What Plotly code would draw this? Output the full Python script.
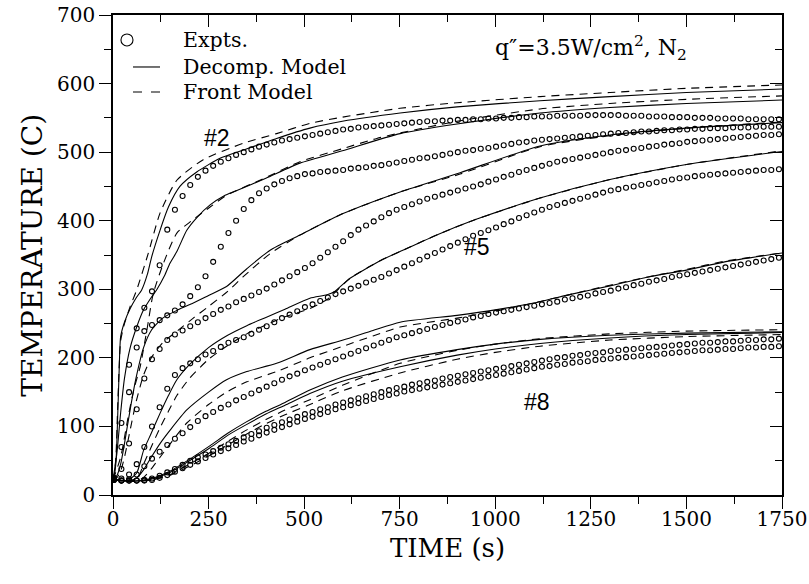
import plotly.graph_objects as go

# ---------------- data ----------------
# experiment sampling times (s), one reading every 20 s
T_EXP = list(range(2, 1750, 20))

EXP_2 = [25, 105, 190, 243, 273, 297, 335, 387, 416, 436,
         452, 464, 473, 480, 486, 491, 496, 500, 504, 508,
         511, 514, 517, 519, 521, 523, 525, 527, 529, 531,
         533, 534, 536, 537, 538, 539, 540, 541, 542, 543,
         544, 545, 545, 546, 546, 547, 547, 548, 548, 549,
         549, 550, 550, 551, 551, 552, 552, 552, 553, 553,
         553, 553, 554, 554, 554, 554, 554, 553, 553, 553,
         552, 552, 552, 551, 551, 551, 550, 550, 550, 549,
         549, 549, 549, 548, 548, 548, 548, 548]
EXP_3 = [25, 70, 150, 215, 239, 248, 255, 262, 269, 278,
         290, 303, 319, 340, 362, 382, 400, 417, 430, 440,
         447, 453, 458, 462, 465, 468, 469, 471, 472, 473,
         474, 476, 477, 478, 480, 481, 483, 485, 487, 489,
         491, 492, 494, 496, 498, 500, 502, 503, 505, 506,
         508, 510, 512, 514, 515, 517, 518, 519, 520, 521,
         522, 523, 524, 525, 526, 527, 528, 528, 529, 530,
         530, 531, 532, 532, 533, 533, 534, 534, 535, 535,
         535, 536, 536, 536, 537, 537, 537, 537]
EXP_4 = [23, 38, 75, 125, 170, 198, 213, 226, 234, 240,
         246, 252, 258, 264, 270, 275, 281, 286, 291, 296,
         301, 307, 313, 319, 325, 331, 338, 346, 354, 362,
         370, 379, 387, 393, 399, 405, 411, 416, 420, 424,
         428, 432, 435, 438, 441, 444, 447, 450, 453, 457,
         460, 464, 467, 471, 474, 477, 480, 483, 486, 488,
         490, 492, 494, 496, 498, 500, 502, 503, 505, 506,
         508, 509, 511, 512, 513, 515, 516, 517, 518, 519,
         520, 521, 522, 523, 524, 525, 525, 526]
EXP_5 = [22, 24, 30, 45, 70, 100, 128, 155, 175, 185,
         192, 198, 205, 210, 216, 222, 226, 230, 235, 241,
         246, 252, 258, 263, 268, 274, 278, 283, 288, 293,
         297, 301, 305, 310, 314, 318, 323, 328, 333, 338,
         343, 348, 353, 358, 363, 368, 373, 378, 382, 386,
         390, 395, 399, 404, 408, 412, 416, 420, 423, 426,
         429, 432, 435, 438, 441, 444, 446, 448, 450, 452,
         454, 456, 458, 460, 462, 463, 465, 466, 467, 468,
         469, 470, 471, 472, 473, 474, 474, 475]
EXP_6 = [22, 21, 23, 30, 42, 53, 63, 73, 82, 90,
         99, 108, 115, 121, 127, 132, 138, 143, 148, 153,
         158, 163, 168, 173, 177, 182, 186, 190, 194, 198,
         202, 206, 210, 214, 218, 222, 226, 230, 233, 236,
         239, 242, 245, 248, 251, 253, 256, 259, 261, 264,
         266, 268, 270, 272, 274, 276, 278, 280, 282, 285,
         287, 289, 291, 294, 296, 298, 301, 303, 306, 308,
         311, 313, 315, 318, 320, 322, 324, 326, 328, 330,
         332, 334, 336, 338, 340, 342, 344, 346]
EXP_7 = [23, 21, 21, 21, 22, 24, 28, 33, 38, 44,
         50, 55, 59, 64, 69, 74, 79, 84, 89, 93,
         98, 102, 106, 110, 114, 118, 121, 125, 128, 132,
         135, 138, 141, 144, 147, 150, 153, 156, 158, 161,
         163, 165, 167, 170, 172, 174, 176, 178, 180, 182,
         184, 186, 188, 190, 192, 194, 196, 198, 200, 201,
         203, 204, 206, 207, 208, 210, 211, 212, 213, 214,
         215, 216, 217, 218, 219, 220, 221, 222, 222, 223,
         224, 224, 225, 226, 226, 227, 227, 228]
EXP_8 = [22, 21, 21, 21, 21, 22, 25, 29, 34, 39,
         44, 49, 54, 59, 64, 68, 73, 78, 82, 87,
         91, 95, 99, 103, 107, 111, 114, 118, 121, 125,
         128, 131, 134, 137, 140, 143, 146, 148, 151, 153,
         155, 157, 159, 161, 163, 165, 167, 169, 171, 173,
         175, 177, 179, 181, 183, 185, 187, 188, 190, 191,
         193, 194, 195, 197, 198, 199, 200, 201, 202, 203,
         204, 205, 206, 207, 208, 209, 210, 211, 211, 212,
         213, 213, 214, 215, 215, 216, 216, 217]

# decomposition model (solid)
DEC_2_T = [0, 4, 8, 12, 16, 20, 30, 45, 60, 75, 90, 101, 123, 145, 175, 219, 280, 341, 428, 515, 600, 751, 900, 1117, 1300, 1500, 1750]
DEC_2 = [22, 30, 50, 110, 180, 231, 252, 272, 287, 299, 322, 347, 386, 420, 450, 471, 491, 503, 520, 535, 545, 557, 566, 575, 581, 587, 592]
DEC_3_T = [0, 10, 20, 30, 45, 62, 80, 100, 114, 135, 149, 167, 193, 220, 254, 290, 324, 400, 489, 600, 751, 900, 1117, 1300, 1500, 1750]
DEC_3 = [22, 60, 120, 170, 215, 245, 270, 288, 299, 320, 338, 355, 386, 405, 423, 436, 444, 462, 484, 502, 527, 541, 557, 565, 571, 576]
DEC_4_T = [0, 10, 20, 30, 45, 60, 80, 100, 130, 170, 210, 250, 297, 350, 411, 489, 600, 751, 908, 1117, 1300, 1500, 1750]
DEC_4 = [22, 28, 45, 75, 125, 170, 215, 240, 258, 270, 280, 291, 304, 330, 357, 379, 410, 442, 470, 509, 525, 535, 543]
DEC_5_T = [0, 20, 40, 62, 80, 100, 123, 145, 167, 200, 250, 300, 350, 400, 450, 515, 560, 580, 620, 700, 751, 850, 950, 1117, 1300, 1500, 1750]
DEC_5 = [22, 21, 22, 32, 65, 90, 119, 145, 168, 190, 215, 233, 247, 259, 271, 287, 292, 297, 316, 342, 355, 380, 402, 433, 460, 482, 501]
DEC_6_T = [0, 40, 60, 79, 100, 123, 150, 193, 250, 297, 350, 428, 515, 602, 680, 751, 900, 1000, 1100, 1200, 1300, 1400, 1500, 1600, 1750]
DEC_6 = [22, 21, 24, 36, 55, 75, 95, 124, 150, 168, 180, 192, 212, 226, 240, 252, 262, 270, 280, 293, 305, 318, 328, 340, 353]
DEC_7_T = [0, 50, 100, 150, 200, 254, 300, 350, 400, 450, 515, 600, 751, 900, 1000, 1117, 1300, 1500, 1750]
DEC_7 = [22, 20, 24, 35, 52, 72, 90, 107, 122, 135, 153, 172, 197, 212, 220, 227, 233, 236, 238]
DEC_8_T = [0, 50, 100, 150, 200, 254, 300, 350, 400, 450, 515, 600, 751, 900, 1000, 1117, 1300, 1500, 1750]
DEC_8 = [22, 20, 23, 33, 50, 69, 87, 103, 118, 131, 148, 166, 187, 204, 213, 221, 229, 234, 237]

# front model (dashed)
FR_2_T = [0, 4, 8, 12, 16, 20, 30, 45, 62, 92, 123, 167, 236, 341, 428, 515, 600, 751, 900, 1117, 1300, 1500, 1750]
FR_2 = [22, 32, 60, 125, 185, 225, 250, 275, 299, 352, 411, 459, 489, 513, 527, 542, 551, 564, 572, 581, 587, 593, 598]
FR_3_T = [0, 20, 40, 55, 71, 90, 105, 132, 167, 206, 254, 297, 400, 489, 600, 690, 751, 900, 1117, 1300, 1500, 1750]
FR_3 = [22, 55, 115, 155, 187, 245, 293, 338, 382, 400, 420, 437, 463, 486, 505, 520, 528, 545, 563, 571, 577, 582]
FR_4_T = [0, 10, 20, 30, 45, 60, 80, 100, 130, 170, 210, 250, 300, 340, 411, 489, 600, 751, 908, 1117, 1300, 1500, 1750]
FR_4 = [22, 25, 35, 55, 95, 135, 175, 200, 222, 240, 258, 275, 297, 318, 352, 379, 410, 442, 468, 508, 524, 535, 544]
FR_5_T = [0, 40, 62, 80, 100, 123, 145, 167, 200, 250, 300, 350, 400, 450, 515, 560, 580, 620, 700, 751, 850, 950, 1117, 1300, 1500, 1750]
FR_5 = [22, 21, 22, 45, 70, 98, 122, 145, 170, 198, 218, 235, 248, 260, 272, 285, 295, 316, 342, 355, 380, 402, 433, 460, 482, 502]
FR_6_T = [0, 60, 79, 100, 123, 150, 193, 250, 297, 350, 428, 515, 602, 680, 751, 900, 1000, 1100, 1200, 1300, 1400, 1500, 1600, 1750]
FR_6 = [22, 21, 25, 38, 55, 75, 105, 132, 150, 165, 180, 200, 217, 232, 245, 258, 268, 280, 293, 306, 318, 329, 341, 353]
FR_7_T = [0, 50, 100, 150, 200, 254, 300, 350, 400, 450, 515, 600, 751, 900, 1000, 1117, 1300, 1500, 1750]
FR_7 = [22, 20, 22, 30, 45, 62, 78, 95, 110, 124, 139, 160, 192, 211, 220, 228, 235, 239, 241]
FR_8_T = [0, 50, 100, 150, 200, 254, 300, 350, 400, 450, 515, 600, 751, 900, 1000, 1117, 1300, 1500, 1750]
FR_8 = [22, 20, 22, 29, 42, 58, 73, 89, 104, 117, 132, 152, 178, 198, 208, 217, 226, 231, 234]

X_TICKS = [0, 250, 500, 750, 1000, 1250, 1500, 1750]
Y_TICKS = [0, 100, 200, 300, 400, 500, 600, 700]

CURVE_LABELS = ["#2", "#5", "#8"]
CURVE_LABEL_T = [272, 952, 1109]
CURVE_LABEL_Y = [521, 362, 136]

# ---------------- figure ----------------
SERIF = "DejaVu Serif"
fig = go.Figure()

exps = [EXP_2, EXP_3, EXP_4, EXP_5, EXP_6, EXP_7, EXP_8]
decs = [(DEC_2_T, DEC_2), (DEC_3_T, DEC_3), (DEC_4_T, DEC_4), (DEC_5_T, DEC_5),
        (DEC_6_T, DEC_6), (DEC_7_T, DEC_7), (DEC_8_T, DEC_8)]
frs = [(FR_2_T, FR_2), (FR_3_T, FR_3), (FR_4_T, FR_4), (FR_5_T, FR_5),
       (FR_6_T, FR_6), (FR_7_T, FR_7), (FR_8_T, FR_8)]

for tt, yy in decs:
    fig.add_trace(go.Scatter(x=tt, y=yy, mode="lines", showlegend=False, hoverinfo="skip",
                             line=dict(color="black", width=1.1, shape="spline", smoothing=0.6)))
for tt, yy in frs:
    fig.add_trace(go.Scatter(x=tt, y=yy, mode="lines", showlegend=False, hoverinfo="skip",
                             line=dict(color="black", width=1.1, dash="8px,6px", shape="spline", smoothing=0.6)))
for yy in exps:
    fig.add_trace(go.Scatter(x=T_EXP, y=yy, mode="markers", showlegend=False,
                             marker=dict(symbol="circle-open", size=5, color="black", line=dict(width=1.1))))

# dummy trace to activate mirrored top/right axes
fig.add_trace(go.Scatter(x=[0], y=[0], xaxis="x2", yaxis="y2", mode="markers",
                         marker=dict(opacity=0), showlegend=False, hoverinfo="skip"))

tickfont = dict(family=SERIF, size=20, color="black")
fig.update_layout(
    width=809, height=584,
    margin=dict(l=113, r=27, t=15, b=89, autoexpand=False),
    paper_bgcolor="white", plot_bgcolor="white",
    xaxis=dict(range=[0, 1750], tickvals=X_TICKS, ticks="outside", ticklen=12, tickwidth=1.2,
               tickcolor="black", showline=True, linecolor="black", linewidth=1.5,
               showgrid=False, zeroline=False, tickfont=tickfont, automargin=False,
               ticklabelstandoff=-7,
               minor=dict(dtick=125, tick0=0, ticks="outside", ticklen=7, tickwidth=1.2,
                          tickcolor="black", showgrid=False)),
    yaxis=dict(range=[0, 700], tickvals=Y_TICKS, ticks="outside", ticklen=12, tickwidth=1.2,
               tickcolor="black", showline=True, linecolor="black", linewidth=1.5,
               showgrid=False, zeroline=False, tickfont=tickfont, automargin=False,
               minor=dict(dtick=50, tick0=0, ticks="outside", ticklen=7, tickwidth=1.2,
                          tickcolor="black", showgrid=False)),
    xaxis2=dict(range=[0, 1750], overlaying="x", side="top", tickvals=X_TICKS, ticks="inside",
                ticklen=12, tickwidth=1.2, tickcolor="black", showline=True, linecolor="black",
                linewidth=1.5, showgrid=False, zeroline=False, showticklabels=False, automargin=False,
                minor=dict(dtick=125, tick0=0, ticks="inside", ticklen=7, tickwidth=1.2,
                           tickcolor="black", showgrid=False)),
    yaxis2=dict(range=[0, 700], overlaying="y", side="right", tickvals=Y_TICKS, ticks="inside",
                ticklen=12, tickwidth=1.2, tickcolor="black", showline=True, linecolor="black",
                linewidth=1.5, showgrid=False, zeroline=False, showticklabels=False, automargin=False,
                minor=dict(dtick=50, tick0=0, ticks="inside", ticklen=7, tickwidth=1.2,
                           tickcolor="black", showgrid=False)),
    showlegend=False,
)

# axis titles
fig.add_annotation(x=0.5, y=-0.111, xref="paper", yref="paper", showarrow=False,
                   xanchor="center", yanchor="middle", text="TIME (s)",
                   font=dict(family=SERIF, size=26, color="black"))
fig.add_annotation(x=-0.1215, y=0.5, xref="paper", yref="paper", showarrow=False,
                   xanchor="center", yanchor="middle", text="TEMPERATURE (C)", textangle=-90,
                   font=dict(family=SERIF, size=28, color="black"))

# curve labels
for lab, tx, ty in zip(CURVE_LABELS, CURVE_LABEL_T, CURVE_LABEL_Y):
    fig.add_annotation(x=tx, y=ty, text=lab, showarrow=False, xref="x", yref="y",
                       xanchor="center", yanchor="middle",
                       font=dict(family="Liberation Sans", size=23, color="black"))

# condition text
fig.add_annotation(x=0.7145, y=0.931, xref="paper", yref="paper", showarrow=False,
                   xanchor="center", yanchor="middle",
                   text="q\u2033=3.5W/cm<sup>2</sup>, N<sub>2</sub>",
                   font=dict(family=SERIF, size=22, color="black"))

# legend (drawn manually)
LEG_TEXT = ["Expts.", "Decomp. Model", "Front Model"]
LEG_Y = [0.948, 0.8917, 0.8396]
for txt, ly in zip(LEG_TEXT, LEG_Y):
    fig.add_annotation(x=0.1016, y=ly, xref="paper", yref="paper", showarrow=False,
                       xanchor="left", yanchor="middle", text=txt,
                       font=dict(family=SERIF, size=20.5, color="black"))
fig.add_shape(type="circle", xref="paper", yref="paper",
              x0=0.0209 - 0.009, x1=0.0209 + 0.009, y0=LEG_Y[0] - 0.0125, y1=LEG_Y[0] + 0.0125,
              line=dict(color="black", width=1.1))
fig.add_shape(type="line", xref="paper", yref="paper", x0=0.0299, x1=0.0703,
              y0=LEG_Y[1], y1=LEG_Y[1], line=dict(color="black", width=1.1))
fig.add_shape(type="line", xref="paper", yref="paper", x0=0.0299, x1=0.0703,
              y0=LEG_Y[2], y1=LEG_Y[2], line=dict(color="black", width=1.1, dash="9px,9px"))

fig.write_html("out.html")
